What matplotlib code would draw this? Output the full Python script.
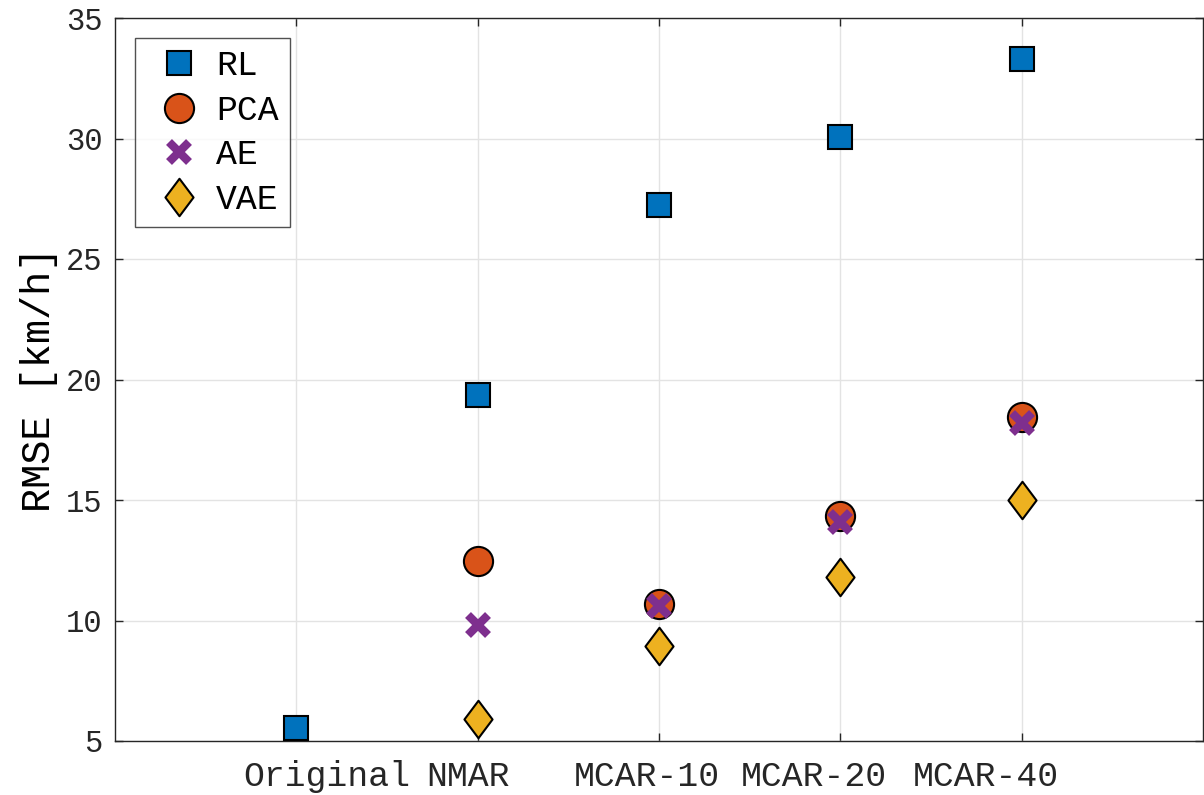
import numpy as np
import matplotlib
matplotlib.use("Agg")
import matplotlib.pyplot as plt
from matplotlib.path import Path

categories = ["Original", "NMAR", "MCAR-10", "MCAR-20", "MCAR-40"]
rl  = [5.55, 19.35, 27.25, 30.05, 33.3]
pca = [np.nan, 12.45, 10.7, 14.35, 18.45]
ae  = [np.nan, 9.8, 10.6, 14.1, 18.2]
vae = [np.nan, 5.9, 8.95, 11.8, 15.0]
yticks = [5, 10, 15, 20, 25, 30, 35]
# horizontal nudges (points) of the category labels, as in the reference rendering
label_shift_pt = [22, -7, -9, -19, -26]

plt.rcParams['font.family'] = ['Liberation Mono', 'DejaVu Sans']

W, H = 1204, 795
fig = plt.figure(figsize=(W/100, H/100), dpi=100)
ax = fig.add_axes([115/W, 1-741/H, (1203-115)/W, (741-18)/H])

x = np.arange(1, len(categories)+1)
diamond = Path([(0, 1), (0.75, 0), (0, -1), (-0.75, 0), (0, 1)],
               [Path.MOVETO, Path.LINETO, Path.LINETO, Path.LINETO, Path.CLOSEPOLY])

ax.plot(x, rl, ls='none', marker='s', ms=17, mfc='#0072BD', mec='black', mew=1.5, label='RL', zorder=3)
ax.plot(x, pca, ls='none', marker='o', ms=21, mfc='#D95319', mec='black', mew=1.5, label='PCA', zorder=3)
ax.plot(x, ae, ls='none', marker='x', ms=14, mec='#7E2F8E', mew=6, label='AE', zorder=3)
ax.plot(x, vae, ls='none', marker=diamond, ms=27, mfc='#EDB120', mec='black', mew=1.5, label='VAE', zorder=3)

ax.set_xlim(0, 6)
ax.set_ylim(5, 35)
ax.set_xticks(x)
ax.set_xticklabels([])
for xi, cat, dx in zip(x, categories, label_shift_pt):
    ax.annotate(cat, xy=(xi, 0), xycoords=('data', 'axes fraction'),
                xytext=(dx, -14), textcoords='offset points',
                ha='center', va='top', fontsize=25, color='#262626', annotation_clip=False)
ax.set_yticks(yticks)
ax.set_yticklabels([str(v) for v in yticks], fontsize=22)
ax.set_ylabel('RMSE [km/h]', fontsize=29, labelpad=6)

ax.grid(True, color='#e3e3e3', lw=1)
ax.set_axisbelow(True)
for s in ax.spines.values():
    s.set_color('#262626'); s.set_linewidth(1)
ax.tick_params(direction='in', length=6, width=1, color='#262626', top=True, right=True, labelcolor='#262626')
ax.tick_params(axis='y', pad=9)

leg = ax.legend(loc='upper left', bbox_to_anchor=(135/W, 1-38/H), bbox_transform=fig.transFigure,
                borderaxespad=0, fontsize=25, frameon=True, fancybox=False, edgecolor='#262626',
                handlelength=1.9, handletextpad=0.1, labelspacing=0.33, borderpad=0.33, numpoints=1)
leg.get_frame().set_linewidth(1)

fig.savefig('out.png', dpi=100)
